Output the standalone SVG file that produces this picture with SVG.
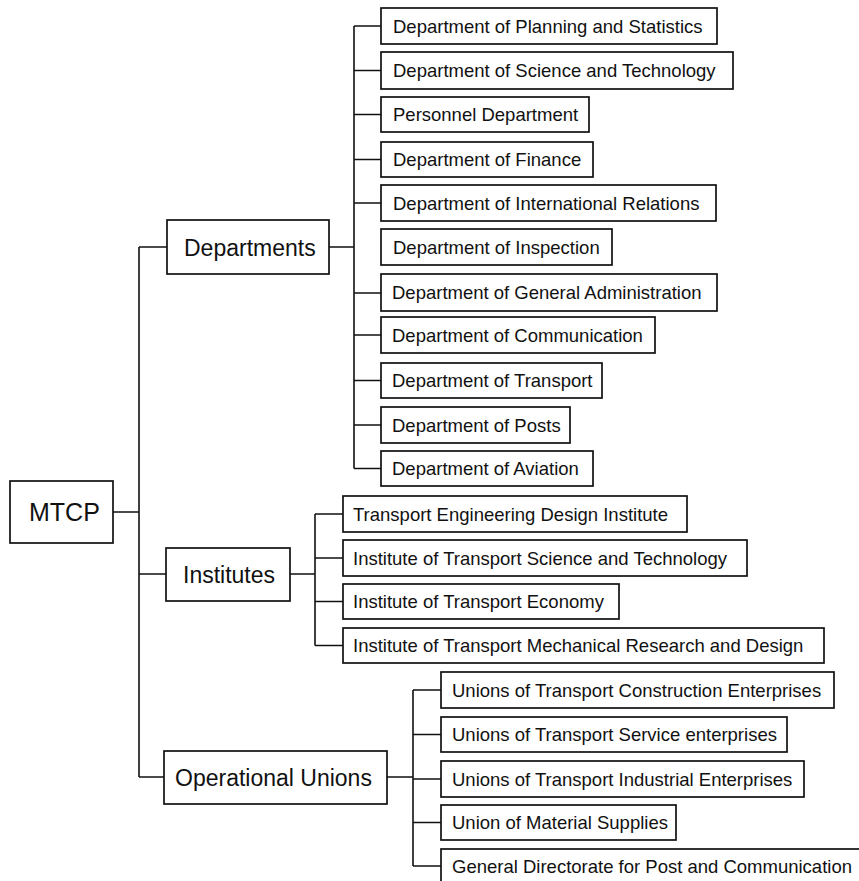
<svg xmlns="http://www.w3.org/2000/svg" width="859" height="881" viewBox="0 0 859 881">
<style>
rect{fill:#fff;stroke:#111;stroke-width:1.7}
#connectors path{fill:none;stroke:#111;stroke-width:1.6}
text{font-family:"Liberation Sans",Arial,Helvetica,sans-serif;fill:#111}
.s{font-size:18.5px}
.m{font-size:23px}
.l{font-size:25px}
</style>
<rect x="0" y="0" width="859" height="881" style="stroke:none"/>
<g id="connectors">
<path d="M113 512H139M139 247V777M139 247H167M139 574H166M139 777H164"/>
<path d="M329 247H354M354 26V468.5M354 26H381M354 70.5H381M354 114.5H381M354 159.5H381M354 203H381M354 293H381M354 335H381M354 380.5H381M354 425H381M354 468.5H381"/>
<path d="M290 574H315M315 514V645.5M315 514H343M315 558H343M315 601.5H343M315 645.5H343"/>
<path d="M387 777H413M413 690V866M413 690H441M413 734.5H441M413 779H441M413 822.5H441M413 866H441"/>
</g>
<g id="mtcp"><rect x="10" y="481" width="103" height="62"/><text class="l" x="29" y="521">MTCP</text></g>
<g id="departments"><rect x="167" y="220" width="162" height="54"/><text class="m" x="184" y="255.5">Departments</text></g>
<g id="institutes"><rect x="166" y="548" width="124" height="53"/><text class="m" x="183" y="582.5">Institutes</text></g>
<g id="operational-unions"><rect x="164" y="751" width="223" height="53"/><text class="m" x="175" y="785.5">Operational Unions</text></g>

<g id="d1"><rect x="381" y="8" width="336" height="36"/><text class="s" x="393" y="32.5">Department of Planning and Statistics</text></g>
<g id="d2"><rect x="381" y="52" width="352" height="37"/><text class="s" x="393" y="77">Department of Science and Technology</text></g>
<g id="d3"><rect x="381" y="97" width="208" height="35"/><text class="s" x="393" y="121">Personnel Department</text></g>
<g id="d4"><rect x="381" y="142" width="212" height="35"/><text class="s" x="393" y="166">Department of Finance</text></g>
<g id="d5"><rect x="381" y="185" width="335" height="36"/><text class="s" x="393" y="209.5">Department of International Relations</text></g>
<g id="d6"><rect x="381" y="229" width="231" height="36"/><text class="s" x="393" y="253.5">Department of Inspection</text></g>
<g id="d7"><rect x="381" y="274" width="336" height="37"/><text class="s" x="392" y="299">Department of General Administration</text></g>
<g id="d8"><rect x="381" y="317" width="274" height="36"/><text class="s" x="392" y="341.5">Department of Communication</text></g>
<g id="d9"><rect x="381" y="363" width="221" height="35"/><text class="s" x="392" y="387">Department of Transport</text></g>
<g id="d10"><rect x="381" y="407" width="189" height="36"/><text class="s" x="392" y="431.5">Department of Posts</text></g>
<g id="d11"><rect x="381" y="451" width="212" height="35"/><text class="s" x="392" y="475">Department of Aviation</text></g>

<g id="i1"><rect x="343" y="496" width="344" height="36"/><text class="s" x="353" y="520.5">Transport Engineering Design Institute</text></g>
<g id="i2"><rect x="343" y="540" width="404" height="36"/><text class="s" x="353" y="564.5">Institute of Transport Science and Technology</text></g>
<g id="i3"><rect x="343" y="584" width="276" height="35"/><text class="s" x="353" y="608">Institute of Transport Economy</text></g>
<g id="i4"><rect x="343" y="628" width="481" height="35"/><text class="s" x="353" y="652">Institute of Transport Mechanical Research and Design</text></g>

<g id="u1"><rect x="441" y="672" width="393" height="36"/><text class="s" x="452" y="696.5">Unions of Transport Construction Enterprises</text></g>
<g id="u2"><rect x="441" y="717" width="346" height="35"/><text class="s" x="452" y="741">Unions of Transport Service enterprises</text></g>
<g id="u3"><rect x="441" y="761" width="363" height="36"/><text class="s" x="452" y="785.5">Unions of Transport Industrial Enterprises</text></g>
<g id="u4"><rect x="441" y="805" width="235" height="35"/><text class="s" x="452" y="829">Union of Material Supplies</text></g>
<g id="u5"><rect x="441" y="849" width="424" height="40"/><text class="s" x="452" y="873">General Directorate for Post and Communication</text></g>
</svg>
